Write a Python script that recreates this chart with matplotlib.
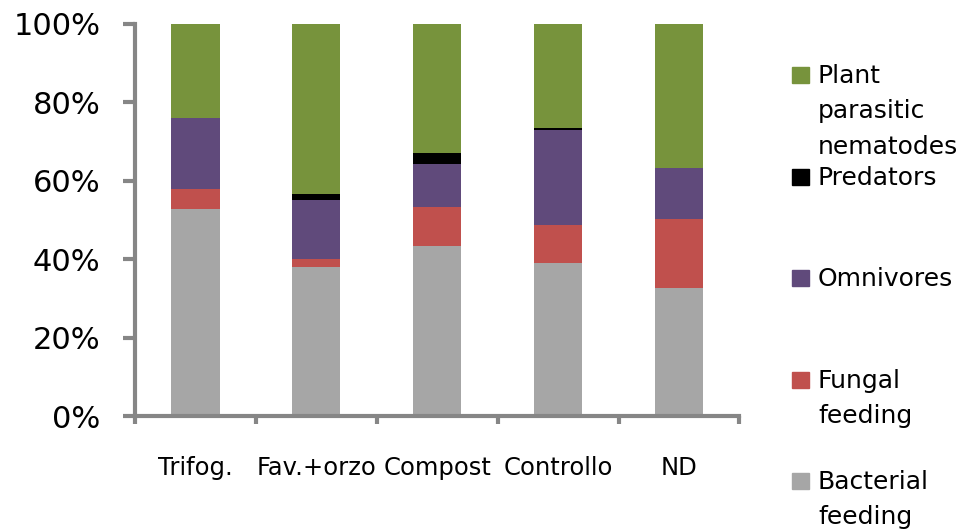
import matplotlib
matplotlib.use("Agg")
import matplotlib.pyplot as plt
from matplotlib.patches import Rectangle
import numpy as np

categories = ["Trifog.", "Fav.+orzo", "Compost", "Controllo", "ND"]
bacterial = [52.9, 38.0, 43.4, 39.1, 32.7]
fungal = [4.9, 2.1, 10.0, 9.7, 17.6]
omnivores = [18.2, 15.1, 10.8, 24.1, 12.9]
predators = [0.0, 1.5, 2.8, 0.5, 0.0]
plant = [24.0, 43.3, 33.0, 26.6, 36.8]

series = [
    ("Bacterial\nfeeding", bacterial, "#A6A6A6"),
    ("Fungal\nfeeding", fungal, "#C0504D"),
    ("Omnivores", omnivores, "#604A7B"),
    ("Predators", predators, "#000000"),
    ("Plant\nparasitic\nnematodes", plant, "#77933C"),
]

fig = plt.figure(figsize=(9.64, 5.32), dpi=100)
ax = fig.add_axes([0.140, 0.218, 0.627, 0.737])

x = np.arange(len(categories))
bottom = np.zeros(len(categories))
for name, vals, col in series:
    ax.bar(x, vals, 0.4, bottom=bottom, color=col, label=name)
    bottom += np.array(vals)

ax.set_xlim(-0.5, len(categories) - 0.5)
ax.set_ylim(0, 100)
ax.set_yticks([0, 20, 40, 60, 80, 100])
ax.set_yticklabels(["0%", "20%", "40%", "60%", "80%", "100%"], fontsize=22)
ax.set_xticks(x)
ax.set_xticklabels(categories, fontsize=17.5)
ax.set_xticks(np.arange(-0.5, len(categories)), minor=True)

gray = "#868686"
for s in ["top", "right"]:
    ax.spines[s].set_visible(False)
for s in ["left", "bottom"]:
    ax.spines[s].set_color(gray)
    ax.spines[s].set_linewidth(3)
ax.tick_params(axis="y", length=9, width=3, color=gray, pad=16)
ax.tick_params(axis="x", which="major", length=0, pad=29)
ax.tick_params(axis="x", which="minor", length=6, width=3, color=gray)

# legend, drawn by hand on the right side
leg_y = [75, 177, 278, 380, 481]
for (name, vals, col), yy in zip(series[::-1], leg_y):
    fy = 1 - yy / 532
    fig.add_artist(Rectangle((792 / 964, fy - 8 / 532), 17 / 964, 16 / 532,
                             transform=fig.transFigure, color=col))
    fig.text(818 / 964, fy + 11 / 532, name, fontsize=18, va="top", ha="left",
             linespacing=1.6)

fig.savefig("out.png", dpi=100)
